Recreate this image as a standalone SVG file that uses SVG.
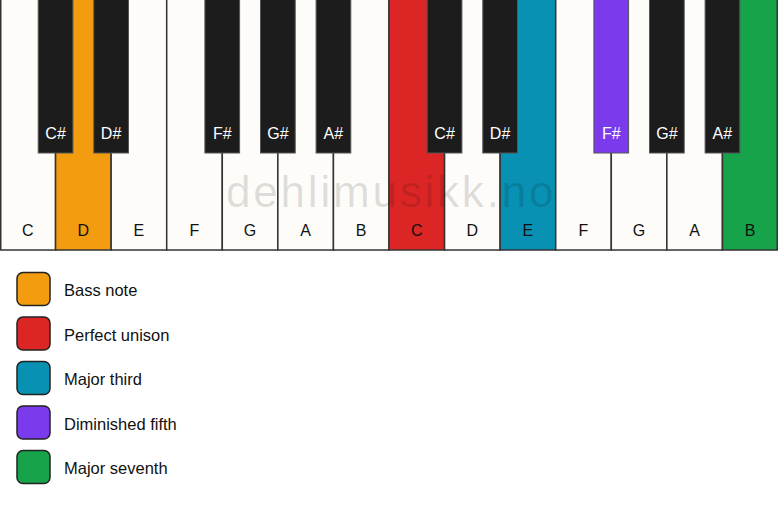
<svg xmlns="http://www.w3.org/2000/svg" width="778" height="506" viewBox="0 0 778 506">
<defs>
<style>
.w{fill:#fdfcf9;stroke:#333;stroke-width:1.5}
.b{fill:#1c1c1c;stroke:#555;stroke-width:1}
.t{font-family:"Liberation Sans",Arial,sans-serif;font-size:16px;text-anchor:middle;fill:#111}
.tb{font-family:"Liberation Sans",Arial,sans-serif;font-size:16px;text-anchor:middle;fill:#fff}
.lg{stroke:#222;stroke-width:1.5}
.lt{font-family:"Liberation Sans",Arial,sans-serif;font-size:16.5px;fill:#111}
.orange{fill:#f39c0f}.red{fill:#dc2626}.teal{fill:#0891b2}.purple{fill:#7c3aed}.green{fill:#16a34a}
</style>
</defs>
<rect width="778" height="506" fill="#fff"/>
<g id="white-keys">
<g id="w-C1"><rect class="w" x="0.75" y="-1" width="54.8" height="251"/><text class="t" x="27.8" y="236">C</text></g>
<g id="w-D1"><rect class="w orange" x="55.57" y="-1" width="55.57" height="251"/><text class="t" x="83.4" y="236">D</text></g>
<g id="w-E1"><rect class="w" x="111.14" y="-1" width="55.57" height="251"/><text class="t" x="138.9" y="236">E</text></g>
<g id="w-F1"><rect class="w" x="166.71" y="-1" width="55.57" height="251"/><text class="t" x="194.5" y="236">F</text></g>
<g id="w-G1"><rect class="w" x="222.29" y="-1" width="55.57" height="251"/><text class="t" x="250.1" y="236">G</text></g>
<g id="w-A1"><rect class="w" x="277.86" y="-1" width="55.57" height="251"/><text class="t" x="305.6" y="236">A</text></g>
<g id="w-B1"><rect class="w" x="333.43" y="-1" width="55.57" height="251"/><text class="t" x="361.2" y="236">B</text></g>
<g id="w-C2"><rect class="w red" x="389" y="-1" width="55.57" height="251"/><text class="t" x="416.8" y="236">C</text></g>
<g id="w-D2"><rect class="w" x="444.57" y="-1" width="55.57" height="251"/><text class="t" x="472.4" y="236">D</text></g>
<g id="w-E2"><rect class="w teal" x="500.14" y="-1" width="55.57" height="251"/><text class="t" x="527.9" y="236">E</text></g>
<g id="w-F2"><rect class="w" x="555.71" y="-1" width="55.57" height="251"/><text class="t" x="583.5" y="236">F</text></g>
<g id="w-G2"><rect class="w" x="611.29" y="-1" width="55.57" height="251"/><text class="t" x="639.1" y="236">G</text></g>
<g id="w-A2"><rect class="w" x="666.86" y="-1" width="55.57" height="251"/><text class="t" x="694.6" y="236">A</text></g>
<g id="w-B2"><rect class="w green" x="722.43" y="-1" width="54.8" height="251"/><text class="t" x="750.2" y="236">B</text></g>
</g>
<g id="black-keys">
<g id="b-Cs1"><rect class="b" x="38.2" y="-1" width="34.7" height="154"/><text class="tb" x="55.6" y="138.5">C#</text></g>
<g id="b-Ds1"><rect class="b" x="93.8" y="-1" width="34.7" height="154"/><text class="tb" x="111.1" y="138.5">D#</text></g>
<g id="b-Fs1"><rect class="b" x="204.9" y="-1" width="34.7" height="154"/><text class="tb" x="222.3" y="138.5">F#</text></g>
<g id="b-Gs1"><rect class="b" x="260.5" y="-1" width="34.7" height="154"/><text class="tb" x="277.9" y="138.5">G#</text></g>
<g id="b-As1"><rect class="b" x="316.1" y="-1" width="34.7" height="154"/><text class="tb" x="333.4" y="138.5">A#</text></g>
<g id="b-Cs2"><rect class="b" x="427.2" y="-1" width="34.7" height="154"/><text class="tb" x="444.6" y="138.5">C#</text></g>
<g id="b-Ds2"><rect class="b" x="482.8" y="-1" width="34.7" height="154"/><text class="tb" x="500.1" y="138.5">D#</text></g>
<g id="b-Fs2"><rect class="b purple" x="593.9" y="-1" width="34.7" height="154"/><text class="tb" x="611.3" y="138.5">F#</text></g>
<g id="b-Gs2"><rect class="b" x="649.5" y="-1" width="34.7" height="154"/><text class="tb" x="666.9" y="138.5">G#</text></g>
<g id="b-As2"><rect class="b" x="705.1" y="-1" width="34.7" height="154"/><text class="tb" x="722.4" y="138.5">A#</text></g>
</g>
<text x="226" y="207" font-family="Liberation Sans, Arial, sans-serif" font-size="44" letter-spacing="2.8" fill="#000" fill-opacity="0.12">dehlimusikk.no</text>
<g id="legend">
<g id="lg-bass"><rect class="lg orange" x="17" y="272.5" width="33" height="33" rx="6"/><text class="lt" x="64" y="296">Bass note</text></g>
<g id="lg-unison"><rect class="lg red" x="17" y="317" width="33" height="33" rx="6"/><text class="lt" x="64" y="340.5">Perfect unison</text></g>
<g id="lg-third"><rect class="lg teal" x="17" y="361.5" width="33" height="33" rx="6"/><text class="lt" x="64" y="385">Major third</text></g>
<g id="lg-fifth"><rect class="lg purple" x="17" y="406" width="33" height="33" rx="6"/><text class="lt" x="64" y="429.5">Diminished fifth</text></g>
<g id="lg-seventh"><rect class="lg green" x="17" y="450.5" width="33" height="33" rx="6"/><text class="lt" x="64" y="474">Major seventh</text></g>
</g>
</svg>
